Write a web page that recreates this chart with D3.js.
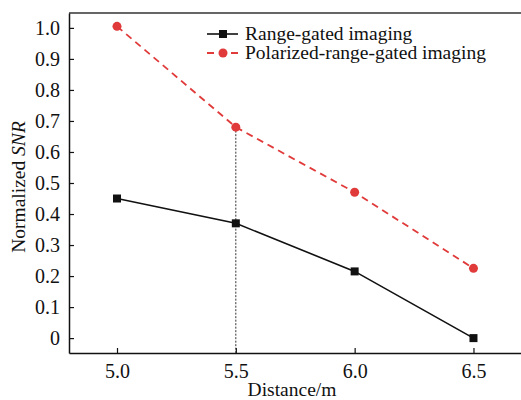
<!DOCTYPE html>
<html>
<head>
<meta charset="utf-8">
<script src="https://cdn.jsdelivr.net/npm/d3@7"></script>
<style>
body { margin: 0; background: #fff; }
svg { font-family: "Liberation Serif", "Times New Roman", serif; }
</style>
</head>
<body>
<svg id="chart" width="521" height="400"></svg>
<script>
var distance = [5.0, 5.5, 6.0, 6.5];
var rangeGated = [0.45, 0.37, 0.215, 0.0];
var polarized = [1.005, 0.68, 0.47, 0.225];
var xTicks = [5.0, 5.5, 6.0, 6.5];
var yTicks = [0, 0.1, 0.2, 0.3, 0.4, 0.5, 0.6, 0.7, 0.8, 0.9, 1.0];
var seriesNames = ["Range-gated imaging", "Polarized-range-gated imaging"];

var svg = d3.select("#chart");
var pLeft = 69, pRight = 521, pTop = 13, pBottom = 353;

var x = d3.scaleLinear().domain([4.798, 6.7]).range([pLeft, pRight]);
var y = d3.scaleLinear().domain([-0.048, 1.048]).range([pBottom, pTop]);

// top frame line
svg.append("line").attr("x1", pLeft).attr("x2", pRight).attr("y1", pTop).attr("y2", pTop)
  .attr("stroke", "#333").attr("stroke-width", 1.5);

var xAxis = d3.axisBottom(x).tickValues(xTicks).tickFormat(d3.format(".1f")).tickSizeInner(-5).tickSizeOuter(0).tickPadding(11);
var yAxis = d3.axisLeft(y).tickValues(yTicks).tickFormat(function(d){ return d === 0 ? "0" : d3.format(".1f")(d); }).tickSizeInner(-5).tickSizeOuter(0).tickPadding(9);

var gx = svg.append("g").attr("transform", "translate(0," + pBottom + ")").call(xAxis);
var gy = svg.append("g").attr("transform", "translate(" + pLeft + ",0)").call(yAxis);
[gx, gy].forEach(function(g) {
  g.attr("font-family", null);
  g.select(".domain").attr("stroke", "#111").attr("stroke-width", 1.5);
  g.selectAll(".tick line").attr("stroke", "#111").attr("stroke-width", 1.2);
  g.selectAll(".tick text").attr("fill", "#111").style("font-size", "20px").style("font-family", "'Liberation Serif', serif");
});

// axis titles
svg.append("text").attr("x", (pLeft + pRight) / 2 - 3).attr("y", 396).attr("text-anchor", "middle")
  .style("font-size", "19.5px").attr("fill", "#111").text("Distance/m");
var yt = svg.append("text").attr("transform", "translate(25,187) rotate(-90)")
  .attr("text-anchor", "middle").style("font-size", "19.5px").attr("fill", "#111");
yt.append("tspan").text("Normalized ");
yt.append("tspan").style("font-style", "italic").text("SNR");

// vertical dotted guide at 5.5
svg.append("line").attr("x1", x(5.5)).attr("x2", x(5.5)).attr("y1", y(polarized[1])).attr("y2", pBottom)
  .attr("stroke", "#333").attr("stroke-width", 1).attr("stroke-dasharray", "2,1.5");

var line = d3.line().x(function(d){ return x(d[0]); }).y(function(d){ return y(d[1]); });

var blackData = distance.map(function(d, i){ return [d, rangeGated[i]]; });
var redData = distance.map(function(d, i){ return [d, polarized[i]]; });

svg.append("path").attr("d", line(blackData)).attr("fill", "none").attr("stroke", "#111").attr("stroke-width", 1.6);
svg.append("path").attr("d", line(redData)).attr("fill", "none").attr("stroke", "#e03a3a").attr("stroke-width", 1.8).attr("stroke-dasharray", "7,5");

svg.selectAll(".sq").data(blackData).enter().append("rect")
  .attr("x", function(d){ return x(d[0]) - 4; }).attr("y", function(d){ return y(d[1]) - 4; })
  .attr("width", 8).attr("height", 8).attr("fill", "#111");
svg.selectAll(".dot").data(redData).enter().append("circle")
  .attr("cx", function(d){ return x(d[0]); }).attr("cy", function(d){ return y(d[1]); })
  .attr("r", 4.5).attr("fill", "#e03a3a");

// legend
var lg = svg.append("g");
lg.append("line").attr("x1", 207).attr("x2", 238).attr("y1", 34).attr("y2", 34).attr("stroke", "#111").attr("stroke-width", 1.6);
lg.append("rect").attr("x", 219).attr("y", 30).attr("width", 8).attr("height", 8).attr("fill", "#111");
lg.append("line").attr("x1", 207).attr("x2", 238).attr("y1", 53).attr("y2", 53).attr("stroke", "#e03a3a").attr("stroke-width", 1.8).attr("stroke-dasharray", "7,5");
lg.append("circle").attr("cx", 223).attr("cy", 53).attr("r", 4.5).attr("fill", "#e03a3a");
lg.selectAll("text").data(seriesNames).enter().append("text")
  .attr("x", 245).attr("y", function(d, i){ return 40 + i * 19; })
  .style("font-size", "19.5px").attr("fill", "#111").text(function(d){ return d; });
</script>
</body>
</html>
